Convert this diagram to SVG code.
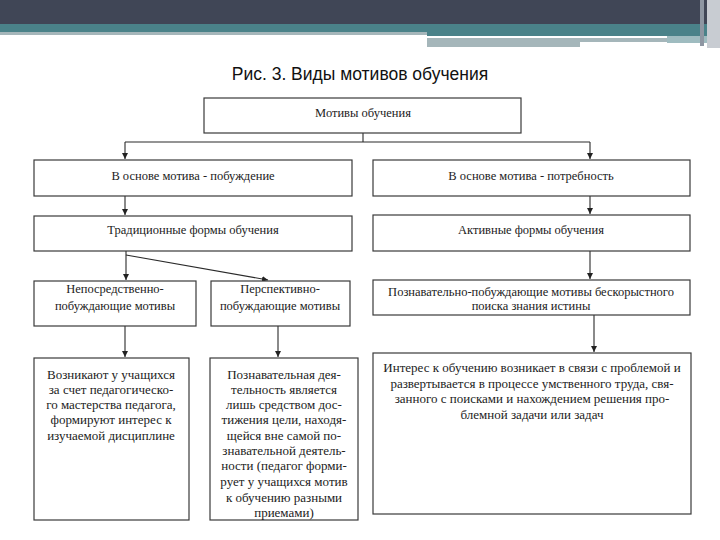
<svg xmlns="http://www.w3.org/2000/svg" width="720" height="540" viewBox="0 0 720 540">
<style>
.box{fill:#fff;stroke:#3a3a3a;stroke-width:1.2}
.t{font-family:"Liberation Serif","Times New Roman",serif;font-size:12.5px;fill:#222;text-anchor:middle}
.tb{font-family:"Liberation Serif","Times New Roman",serif;font-size:13px;fill:#222;text-anchor:middle}
.c{fill:none;stroke:#2a2a2a;stroke-width:1.1}
</style>
<defs>
<marker id="ah" viewBox="0 0 10 10" refX="10" refY="5" markerWidth="6" markerHeight="6" markerUnits="userSpaceOnUse" orient="auto">
<path d="M0,0 L10,5 L0,10 Z" fill="#222"/>
</marker>
</defs>
<rect width="720" height="540" fill="#fff"/>
<g id="header">
<rect x="0" y="0" width="720" height="24" fill="#404656"/>
<rect x="0" y="24" width="720" height="8" fill="#4a8289"/>
<rect x="0" y="32" width="427" height="3" fill="#a5b6ba"/>
<rect x="427" y="32" width="280" height="4" fill="#4a8289"/>
<rect x="427" y="38" width="240" height="4" fill="#a5b6ba"/>
<rect x="427" y="42" width="153" height="5" fill="#a5b6ba"/>
<rect x="667" y="36" width="40" height="7" fill="#9fbcc0"/>
<rect x="700" y="0" width="4" height="46" fill="#8e96a2"/>
<rect x="707" y="0" width="13" height="48" fill="#c8ccd2"/>
</g>
<text x="360" y="80" style="font-family:'Liberation Sans',Arial,sans-serif;font-size:17.5px;fill:#111;text-anchor:middle">Рис. 3. Виды мотивов обучения</text>
<g id="connectors">
<path class="c" d="M363,133 V142 M125,142 H590"/>
<path class="c" d="M125,142 V159" marker-end="url(#ah)"/>
<path class="c" d="M590,142 V159" marker-end="url(#ah)"/>
<path class="c" d="M125,196 V215" marker-end="url(#ah)"/>
<path class="c" d="M590,196 V214" marker-end="url(#ah)"/>
<path class="c" d="M126,251 V280" marker-end="url(#ah)"/>
<path class="c" d="M126,255 L268,280" marker-end="url(#ah)"/>
<path class="c" d="M590,251 V279" marker-end="url(#ah)"/>
<path class="c" d="M125,326 V357" marker-end="url(#ah)"/>
<path class="c" d="M278,326 V357" marker-end="url(#ah)"/>
<path class="c" d="M594,315 V352" marker-end="url(#ah)"/>
</g>
<g id="n1"><rect class="box" x="204" y="98" width="317" height="35"/><text class="t" x="363" y="117">Мотивы обучения</text></g>
<g id="n2"><rect class="box" x="34" y="160" width="318" height="36"/><text class="t" x="193" y="180">В основе мотива - побуждение</text></g>
<g id="n3"><rect class="box" x="373" y="160" width="317" height="36"/><text class="t" x="531" y="180">В основе мотива - потребность</text></g>
<g id="n4"><rect class="box" x="34" y="216" width="318" height="35"/><text class="t" x="193" y="234">Традиционные формы обучения</text></g>
<g id="n5"><rect class="box" x="373" y="215" width="317" height="36"/><text class="t" x="531" y="234">Активные формы обучения</text></g>
<g id="n6"><rect class="box" x="34" y="281" width="162" height="45"/><text class="t" x="115" y="293">Непосредственно-</text><text class="t" x="115" y="310">побуждающие мотивы</text></g>
<g id="n7"><rect class="box" x="211" y="281" width="139" height="45"/><text class="t" x="280" y="293">Перспективно-</text><text class="t" x="280" y="310">побуждающие мотивы</text></g>
<g id="n8"><rect class="box" x="373" y="280" width="317" height="35"/><text class="t" x="531" y="296">Познавательно-побуждающие мотивы бескорыстного</text><text class="t" x="531" y="310">поиска знания  истины</text></g>
<g id="n9"><rect class="box" x="34" y="358" width="155" height="162"/>
<text class="tb" x="111" y="379">Возникают у учащихся</text>
<text class="tb" x="111" y="394">за счет педагогическо-</text>
<text class="tb" x="111" y="409">го мастерства педагога,</text>
<text class="tb" x="111" y="424">формируют интерес к</text>
<text class="tb" x="111" y="440">изучаемой дисциплине</text>
</g>
<g id="n10"><rect class="box" x="210" y="358" width="148" height="162"/>
<text class="tb" x="284" y="379">Познавательная дея-</text>
<text class="tb" x="284" y="394">тельность является</text>
<text class="tb" x="284" y="409">лишь средством дос-</text>
<text class="tb" x="284" y="424">тижения цели, находя-</text>
<text class="tb" x="284" y="440">щейся вне самой по-</text>
<text class="tb" x="284" y="455">знавательной деятель-</text>
<text class="tb" x="284" y="470">ности (педагог форми-</text>
<text class="tb" x="284" y="486">рует у учащихся мотив</text>
<text class="tb" x="284" y="502">к обучению разными</text>
<text class="tb" x="284" y="517">приемами)</text>
</g>
<g id="n11"><rect class="box" x="373" y="353" width="318" height="161"/>
<text class="tb" x="532" y="372">Интерес к обучению возникает в связи с проблемой и</text>
<text class="tb" x="532" y="388">развертывается в процессе умственного труда, свя-</text>
<text class="tb" x="532" y="403">занного с поисками и нахождением решения про-</text>
<text class="tb" x="532" y="419">блемной задачи или задач</text>
</g>
</svg>
